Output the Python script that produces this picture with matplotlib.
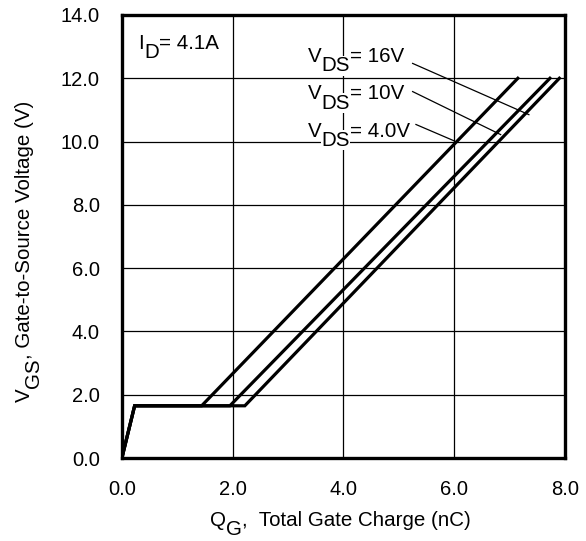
import matplotlib
matplotlib.use('Agg')
import matplotlib.pyplot as plt

plt.rcParams['font.family'] = ['Liberation Sans', 'DejaVu Sans']

# gate charge curves (Q_G in nC, V_GS in V)
vgs_pts = [0.0, 1.65, 1.65, 12.0]
qg_16v = [0.0, 0.23, 1.44, 7.15]
qg_10v = [0.0, 0.23, 1.95, 7.73]
qg_4v = [0.0, 0.23, 2.22, 7.90]

vds_text = ['= 16V', '= 10V', '= 4.0V']
label_xy = [(3.36, 12.50), (3.36, 11.33), (3.36, 10.16)]
leader_start = [(5.25, 12.47), (5.25, 11.58), (5.31, 10.54)]
leader_end = [(7.35, 10.85), (6.84, 10.22), (5.99, 10.03)]

xticks = [0.0, 2.0, 4.0, 6.0, 8.0]
yticks = [0.0, 2.0, 4.0, 6.0, 8.0, 10.0, 12.0, 14.0]

FS = 14.8
DROP = 6.5  # subscript drop in points


def add_sub(first, sub, rest, rotated=False, **kw):
    # chain "sub" (lowered, full size) and "rest" after an existing text artist
    if rotated:
        t2 = ax.annotate(sub, xy=(0, 1), xycoords=first, xytext=(DROP, 0),
                         textcoords='offset points', ha='left', va='bottom',
                         rotation=90, fontsize=FS, **kw)
        ax.annotate(rest, xy=(0, 1), xycoords=t2, xytext=(-DROP, 0),
                    textcoords='offset points', ha='left', va='bottom',
                    rotation=90, fontsize=FS, **kw)
    else:
        t2 = ax.annotate(sub, xy=(1, 0), xycoords=first, xytext=(0, -DROP),
                         textcoords='offset points', ha='left', va='bottom',
                         fontsize=FS, **kw)
        ax.annotate(rest, xy=(1, 0), xycoords=t2, xytext=(0, DROP),
                    textcoords='offset points', ha='left', va='bottom',
                    fontsize=FS, **kw)


fig = plt.figure(figsize=(5.86, 5.41), dpi=100)
ax = fig.add_axes([0.208, 0.1534, 0.756, 0.8189])

ax.set_xlim(0, 8)
ax.set_ylim(0, 14)
ax.set_xticks(xticks)
ax.set_yticks(yticks)
ax.set_xticklabels([f'{t:.1f}' for t in xticks])
ax.set_yticklabels([f'{t:.1f}' for t in yticks])
ax.tick_params(length=0, labelsize=14.5, pad=16)
ax.tick_params(axis='y', pad=16)
ax.grid(True, color='black', linewidth=0.9)
ax.set_axisbelow(True)
for s in ax.spines.values():
    s.set_linewidth(2.4)

for qg in (qg_16v, qg_10v, qg_4v):
    ax.plot(qg, vgs_pts, color='black', linewidth=2.3, solid_joinstyle='miter', zorder=3)

white = dict(facecolor='white', edgecolor='none', pad=0.3)
for rest, (lx, ly), (sx, sy), (ex, ey) in zip(vds_text, label_xy, leader_start, leader_end):
    t = ax.text(lx, ly, 'V', fontsize=FS, ha='left', va='baseline', zorder=4, bbox=white)
    add_sub(t, 'DS', rest, zorder=4, bbox=white)
    ax.plot([sx, ex], [sy, ey], color='black', linewidth=0.9, zorder=4)

t = ax.text(0.30, 12.94, 'I', fontsize=FS, ha='left', va='baseline')
add_sub(t, 'D', '= 4.1A')

# axis labels
t = fig.text(210 / 586, 1 - 526 / 541, 'Q', fontsize=FS, ha='left', va='baseline')
add_sub(t, 'G', ',  Total Gate Charge (nC)')

t = fig.text(30 / 586, 1 - 402 / 541, 'V', fontsize=FS, rotation=90,
             rotation_mode='anchor', ha='left', va='baseline')
add_sub(t, 'GS', ', Gate-to-Source Voltage (V)', rotated=True)

fig.savefig('out.png', dpi=100)
